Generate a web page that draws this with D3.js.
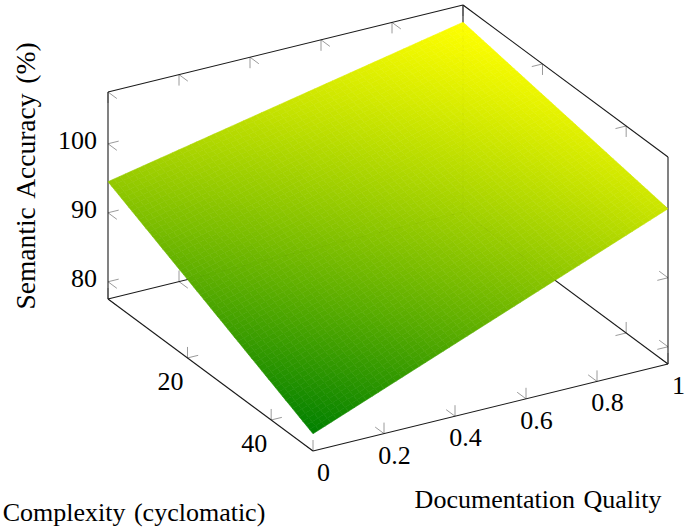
<!DOCTYPE html>
<html>
<head>
<meta charset="utf-8">
<script src="https://cdn.jsdelivr.net/npm/d3@7"></script>
<style>
  html, body { margin: 0; padding: 0; background: #fff; }
  svg text { font-family: "Liberation Serif", "DejaVu Serif", serif; fill: #000; }
</style>
</head>
<body>
<div id="chart"></div>
<script>
// Chart values.
const docQuality = [0, 1];            // x grid
const complexity = [1, 50];           // y grid
// accuracy[row = complexity][col = docQuality]
const accuracy = [
  [94.5, 105],
  [80, 100]
];
const xTicks = [0, 0.2, 0.4, 0.6, 0.8, 1];
const yTicks = [20, 40];
const zTicks = [80, 90, 100];
const xLabel = "Documentation Quality";
const yLabel = "Complexity (cyclomatic)";
const zLabel = "Semantic Accuracy (%)";

const w = 691;
const h = 529;
const fontSize = 26;
const tickLen = 11;

// Axis scales: data -> unit cube.
const xScale = d3.scaleLinear(d3.extent(docQuality), [0, 1]);
const yScale = d3.scaleLinear(d3.extent(complexity), [0, 1]);
const zScale = d3.scaleLinear([77.5, 107.5], [0, 1]);
const color = d3.scaleLinear([80, 105], ["rgb(0,128,0)", "rgb(255,255,0)"])
  .interpolate(d3.interpolateRgb);

// Screen basis of the box (the view).
const origin = [108, 299];
const ex = [355, -87];
const ey = [205, 152];
const ez = [0, -207];

function proj(u, v, t) {
  return [
    origin[0] + u * ex[0] + v * ey[0] + t * ez[0],
    origin[1] + u * ex[1] + v * ey[1] + t * ez[1]
  ];
}
function unit(vec, s) {
  const l = Math.hypot(vec[0], vec[1]);
  return [vec[0] / l * s, vec[1] / l * s];
}

const svg = d3.select("#chart")
  .append("svg")
  .attr("width", w)
  .attr("height", h)
  .attr("viewBox", [0, 0, w, h]);

const line = d3.line();

// Box edges (the three that meet at the front-top corner are left out).
const edges = [];
[[0, 0], [1, 0], [0, 1]].forEach(([v, t]) => edges.push({ axis: "x", v, t }));
[[0, 0], [1, 0], [1, 1]].forEach(([u, t]) => edges.push({ axis: "y", u, t }));
[[0, 0], [1, 0], [1, 1]].forEach(([u, v]) => edges.push({ axis: "z", u, v }));

const back = svg.append("g");

edges.forEach((e) => {
  let a, b, ticks, pos, dirs;
  if (e.axis === "x") {
    a = proj(0, e.v, e.t); b = proj(1, e.v, e.t);
    ticks = xTicks.map(xScale);
    pos = (s) => proj(s, e.v, e.t);
    dirs = [unit(ey, e.v === 0 ? tickLen : -tickLen), unit(ez, e.t === 0 ? tickLen : -tickLen)];
  } else if (e.axis === "y") {
    a = proj(e.u, 0, e.t); b = proj(e.u, 1, e.t);
    ticks = yTicks.map(yScale);
    pos = (s) => proj(e.u, s, e.t);
    dirs = [unit(ex, e.u === 0 ? tickLen : -tickLen), unit(ez, e.t === 0 ? tickLen : -tickLen)];
  } else {
    a = proj(e.u, e.v, 0); b = proj(e.u, e.v, 1);
    ticks = zTicks.map(zScale);
    pos = (s) => proj(e.u, e.v, s);
    dirs = [unit(ex, e.u === 0 ? tickLen : -tickLen), unit(ey, e.v === 0 ? tickLen : -tickLen)];
  }
  ticks.forEach((s) => {
    const p = pos(s);
    dirs.forEach((d) => {
      back.append("path")
        .attr("d", line([p, [p[0] + d[0], p[1] + d[1]]]))
        .attr("stroke", "#8f8f8f")
        .attr("stroke-width", 0.9)
        .attr("fill", "none");
    });
  });
  back.append("path")
    .attr("d", line([a, b]))
    .attr("stroke", "#1a1a1a")
    .attr("stroke-width", 1.1)
    .attr("fill", "none");
});

// Surface, shaded like an interp shader over the four grid corners.
function acc(u, v) {
  return (1 - u) * (1 - v) * accuracy[0][0] + u * (1 - v) * accuracy[0][1]
       + (1 - u) * v * accuracy[1][0] + u * v * accuracy[1][1];
}
const N = 60;
const cells = [];
for (let i = 0; i < N; i++) {
  for (let j = 0; j < N; j++) {
    const u0 = i / N, u1 = (i + 1) / N, v0 = j / N, v1 = (j + 1) / N;
    const corners = [[u0, v0], [u1, v0], [u1, v1], [u0, v1]];
    const pts = corners.map(([u, v]) => proj(u, v, zScale(acc(u, v))));
    const zm = d3.mean(corners, ([u, v]) => acc(u, v));
    cells.push({ pts, zm });
  }
}
svg.append("g")
  .selectAll("path")
  .data(cells)
  .join("path")
  .attr("d", (d) => line(d.pts) + "Z")
  .attr("fill", (d) => color(d.zm))
  .attr("stroke", (d) => color(d.zm))
  .attr("stroke-width", 0.6)
  .attr("stroke-linejoin", "round");

// Tick labels.
const labels = svg.append("g").attr("font-size", fontSize);

labels.selectAll(".zt")
  .data(zTicks)
  .join("text")
  .attr("class", "zt")
  .attr("text-anchor", "end")
  .attr("x", (d) => proj(0, 0, zScale(d))[0] - 11)
  .attr("y", (d) => proj(0, 0, zScale(d))[1] + 5)
  .text((d) => d);

labels.selectAll(".yt")
  .data(yTicks)
  .join("text")
  .attr("class", "yt")
  .attr("text-anchor", "middle")
  .attr("x", (d) => proj(0, yScale(d), 0)[0] - 17)
  .attr("y", (d) => proj(0, yScale(d), 0)[1] + 32)
  .text((d) => d);

labels.selectAll(".xt")
  .data(xTicks)
  .join("text")
  .attr("class", "xt")
  .attr("text-anchor", "middle")
  .attr("x", (d) => proj(xScale(d), 1, 0)[0] + 10.5)
  .attr("y", (d) => proj(xScale(d), 1, 0)[1] + 30)
  .text((d) => d);

// Axis labels.
labels.append("text")
  .attr("text-anchor", "middle")
  .attr("x", 538)
  .attr("y", 508)
  .attr("word-spacing", 2)
  .text(xLabel);

labels.append("text")
  .attr("text-anchor", "middle")
  .attr("x", 134)
  .attr("y", 521)
  .attr("word-spacing", 2)
  .text(yLabel);

labels.append("text")
  .attr("text-anchor", "middle")
  .attr("font-size", 27.5)
  .attr("transform", "translate(35,176) rotate(-90)")
  .attr("word-spacing", 3)
  .text(zLabel);
</script>
</body>
</html>
